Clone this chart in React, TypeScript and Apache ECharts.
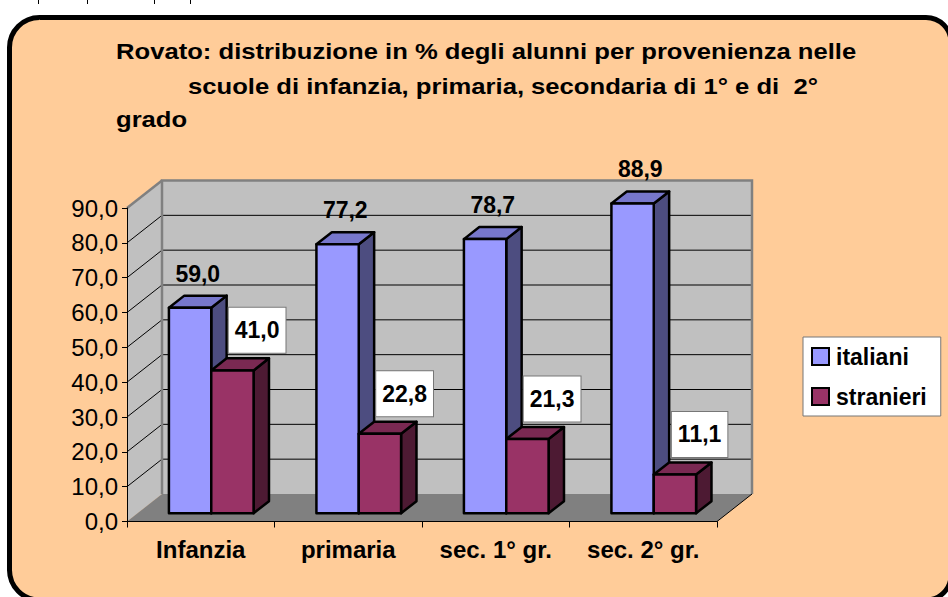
import React, { useEffect, useRef } from "react";
import * as echarts from "echarts";

const categories = ["Infanzia", "primaria", "sec. 1° gr.", "sec. 2° gr."];
const seriesNames = ["italiani", "stranieri"];
const italiani = [59.0, 77.2, 78.7, 88.9];
const stranieri = [41.0, 22.8, 21.3, 11.1];
const yMin = 0;
const yMax = 90;
const yStep = 10;

const titleLines = [
  "Rovato: distribuzione in % degli alunni per provenienza nelle",
  "scuole di infanzia, primaria, secondaria di 1° e di  2°",
  "grado",
];

const FONT = "'Liberation Sans', Arial, Helvetica, sans-serif";
const DX = 35;
const DY = -27.5;
const F0 = 0.3;
const F1 = 0.74;

const faceColors = [
  { front: "#9999FF", top: "#7777CC", side: "#4D4D80" },
  { front: "#993366", top: "#7A2952", side: "#4D1A33" },
];

const fmt = (v: number) => v.toFixed(1).replace(".", ",");

export default function App() {
  const ref = useRef<HTMLDivElement>(null);
  useEffect(() => {
    if (!ref.current) return;
    const chart = echarts.init(ref.current, null, { renderer: "svg" });

    const renderWalls = (params: any, api: any) => {
      const cs = params.coordSys;
      const x0 = cs.x;
      const x1 = cs.x + cs.width;
      const yb = api.coord([0, yMin])[1];
      const yt = api.coord([0, yMax])[1];
      const children: any[] = [
        {
          type: "polygon",
          shape: { points: [[x0, yt], [x0 + DX, yt + DY], [x0 + DX, yb + DY], [x0, yb]] },
          style: { fill: "#C0C0C0" },
        },
        {
          type: "rect",
          shape: { x: x0 + DX, y: yt + DY, width: x1 - x0, height: yb - yt },
          style: { fill: "#C0C0C0" },
        },
        {
          type: "polygon",
          shape: { points: [[x0, yb], [x1, yb], [x1 + DX, yb + DY], [x0 + DX, yb + DY]] },
          style: { fill: "#808080" },
        },
      ];
      for (let v = yMin + yStep; v < yMax; v += yStep) {
        const y = api.coord([0, v])[1];
        children.push({
          type: "line",
          shape: { x1: x0 + DX, y1: y + DY, x2: x1 + DX, y2: y + DY },
          style: { stroke: "#000", lineWidth: 1 },
        });
        children.push({
          type: "line",
          shape: { x1: x0, y1: y, x2: x0 + DX, y2: y + DY },
          style: { stroke: "#000", lineWidth: 1 },
        });
      }
      children.push({
        type: "polyline",
        shape: { points: [[x0 + DX, yb + DY], [x0 + DX, yt + DY], [x1 + DX, yt + DY], [x1 + DX, yb + DY]] },
        style: { stroke: "#808080", lineWidth: 2.5, fill: null },
      });
      children.push({
        type: "line",
        shape: { x1: x0, y1: yt, x2: x0 + DX, y2: yt + DY },
        style: { stroke: "#808080", lineWidth: 2.5 },
      });
      children.push({
        type: "line",
        shape: { x1: x1, y1: yb, x2: x1 + DX, y2: yb + DY },
        style: { stroke: "#000", lineWidth: 1 },
      });
      return { type: "group", children };
    };

    const makeBarRenderer = (si: number) => (params: any, api: any) => {
      const ci = api.value(0);
      const val = api.value(1);
      const [cx, yTop0] = api.coord([ci, val]);
      const yBot0 = api.coord([ci, 0])[1];
      const catW = api.size([1, 0])[0];
      const barW = catW * 0.287;
      const fdx = DX * F0;
      const fdy = DY * F0;
      const bdx = DX * (F1 - F0);
      const bdy = DY * (F1 - F0);
      const xl = (si === 0 ? cx - barW : cx) + fdx;
      const xr = xl + barW;
      const yt = yTop0 + fdy;
      const yb = yBot0 + fdy;
      const c = faceColors[si];
      const stroke = { stroke: "#000", lineWidth: 2.5, lineJoin: "round" };
      const children: any[] = [
        {
          type: "polygon",
          shape: { points: [[xr, yt], [xr + bdx, yt + bdy], [xr + bdx, yb + bdy], [xr, yb]] },
          style: { fill: c.side, ...stroke },
        },
        {
          type: "polygon",
          shape: { points: [[xl, yt], [xl + bdx, yt + bdy], [xr + bdx, yt + bdy], [xr, yt]] },
          style: { fill: c.top, ...stroke },
        },
        {
          type: "rect",
          shape: { x: xl, y: yt, width: barW, height: yb - yt },
          style: { fill: c.front, ...stroke },
        },
      ];
      const lx = (xl + xr) / 2 + bdx / 2;
      if (si === 0) {
        children.push({
          type: "text",
          z2: 100,
          style: {
            text: fmt(val),
            x: lx,
            y: yt + bdy - 22,
            align: "center",
            verticalAlign: "middle",
            font: `bold 23px ${FONT}`,
            fill: "#000",
          },
        });
      } else {
        children.push({
          type: "text",
          z2: 100,
          style: {
            text: fmt(val),
            x: lx + 17,
            y: yt + bdy - 28,
            align: "center",
            verticalAlign: "middle",
            font: `bold 23px ${FONT}`,
            fill: "#000",
            backgroundColor: "#FFFFFF",
            borderColor: "#777777",
            borderWidth: 1,
            padding: [11, 6, 11, 6],
          },
        });
      }
      return { type: "group", children };
    };

    const valueArrays = [italiani, stranieri];

    const titleY = [51, 86, 119];
    const titleX = [116, 188, 116];

    const option: any = {
      animation: false,
      graphic: [
        {
          type: "rect",
          z: -10,
          silent: true,
          shape: { x: 9.5, y: 17.5, width: 941.5, height: 582.5, r: [30, 25, 25, 30] },
          style: { fill: "#FFCC99", stroke: "#000", lineWidth: 5 },
        },
        ...[38, 87, 154, 190].map((x) => ({
          type: "line",
          z: -10,
          silent: true,
          shape: { x1: x + 0.5, y1: 0, x2: x + 0.5, y2: 4 },
          style: { stroke: "#000", lineWidth: 1 },
        })),
        ...titleLines.map((t, i) => ({
          type: "text",
          x: titleX[i],
          y: titleY[i],
          scaleX: 1.165,
          style: { text: t, font: `bold 22px ${FONT}`, fill: "#000", verticalAlign: "middle" },
        })),
      ],
      grid: { left: 127, top: 208, right: 231, bottom: 75.5, containLabel: false },
      legend: {
        orient: "vertical",
        left: 803,
        top: 337,
        padding: [8, 14, 8, 8],
        itemGap: 17,
        itemWidth: 17,
        itemHeight: 17,
        icon: "rect",
        backgroundColor: "#FFFFFF",
        borderColor: "#777777",
        borderWidth: 1,
        borderRadius: 0,
        textStyle: { fontFamily: FONT, fontWeight: "bold", fontSize: 23, color: "#000", padding: [0, 0, 0, 2] },
        data: seriesNames.map((n, i) => ({
          name: n,
          itemStyle: { color: faceColors[i].front, borderColor: "#000", borderWidth: 2 },
        })),
      },
      xAxis: {
        type: "category",
        data: categories,
        axisLine: { show: true, lineStyle: { color: "#000", width: 1 } },
        axisTick: { show: true, length: 6, lineStyle: { color: "#000" } },
        axisLabel: { color: "#000", fontFamily: FONT, fontWeight: "bold", fontSize: 24, margin: 16 },
        splitLine: { show: false },
      },
      yAxis: {
        type: "value",
        min: yMin,
        max: yMax,
        interval: yStep,
        axisLine: { show: true, lineStyle: { color: "#000", width: 1 } },
        axisTick: { show: true, length: 5, lineStyle: { color: "#000" } },
        axisLabel: { color: "#000", fontFamily: FONT, fontSize: 24, margin: 9, formatter: (v: number) => fmt(v) },
        splitLine: { show: false },
      },
      series: [
        {
          type: "custom",
          name: "walls",
          z: -1,
          silent: true,
          renderItem: renderWalls,
          data: [[0, 0]],
          legendHoverLink: false,
        },
        ...seriesNames.map((n, si) => ({
          type: "custom",
          name: n,
          z: 2 + si,
          itemStyle: { color: faceColors[si].front, borderColor: "#000", borderWidth: 2 },
          renderItem: makeBarRenderer(si),
          data: valueArrays[si].map((v, i) => [i, v]),
        })),
      ],
    };
    chart.setOption(option);
    return () => chart.dispose();
  }, []);
  return (
    <div
      ref={ref}
      style={{ position: "fixed", left: 0, top: 0, width: 948, height: 597, background: "#FFFFFF" }}
    />
  );
}
